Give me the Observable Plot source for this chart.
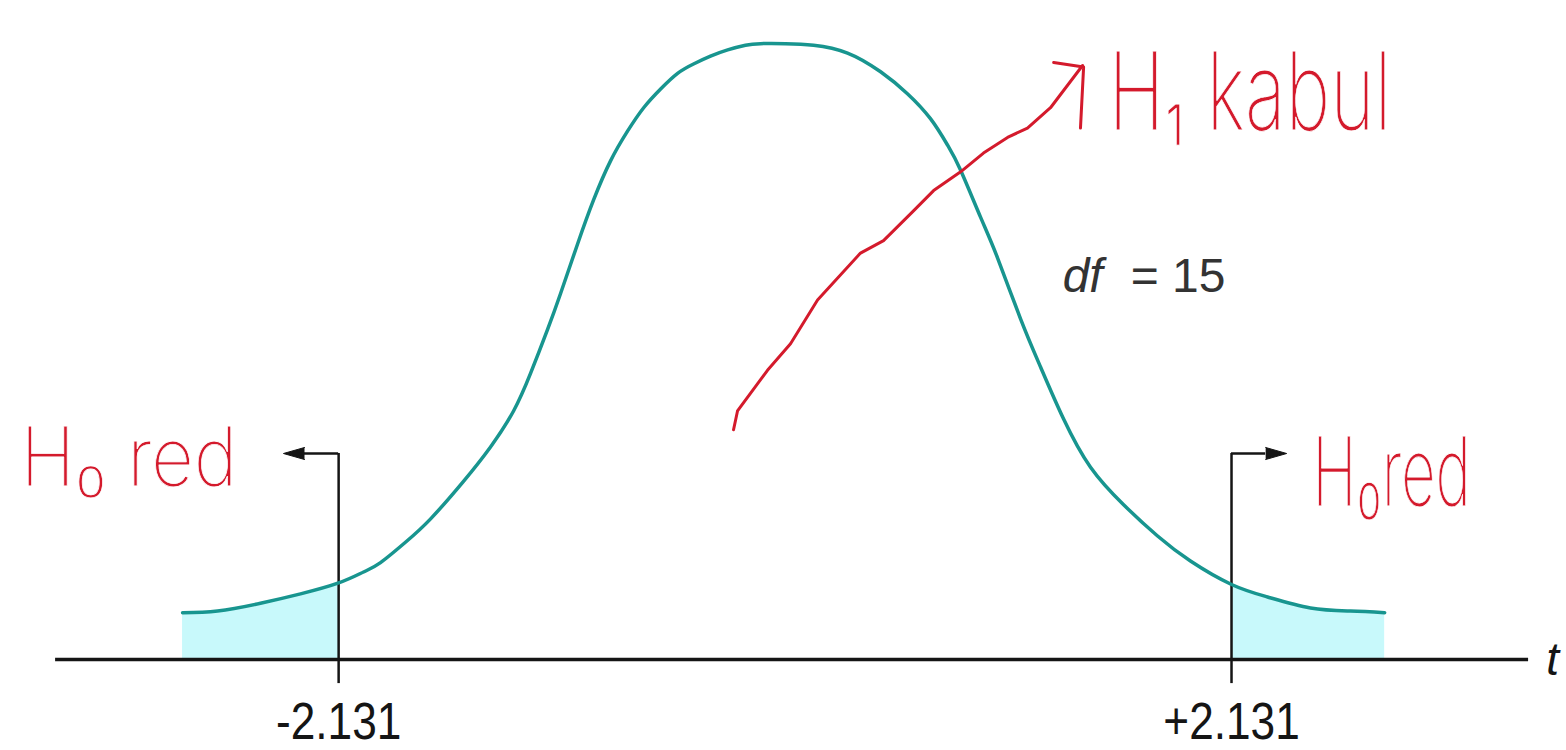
<!DOCTYPE html>
<html>
<head>
<meta charset="utf-8">
<script src="https://cdn.jsdelivr.net/npm/d3@7"></script>
<script src="https://cdn.jsdelivr.net/npm/@observablehq/plot@0.6"></script>
<style>
  html, body { margin: 0; padding: 0; background: #fff; }
  #chart svg { display: block; }
</style>
</head>
<body>
<div id="chart"></div>
<script>
// Student t distribution with 15 degrees of freedom, two-tailed test at ±2.131
const df = 15;
const critical = 2.131;
const criticalValues = [-critical, critical];

// density curve, sampled along t
const curveT = [
  -2.876, -2.709, -2.504, -2.313, -2.131, -2.012, -1.931, -1.812, -1.692, -1.535,
  -1.406, -1.296, -1.215, -1.134, -1.072, -0.990, -0.914, -0.833, -0.752, -0.675,
  -0.594, -0.513, -0.437, -0.356, -0.274, -0.189, -0.117, 0.002, 0.136, 0.298,
  0.456, 0.584, 0.694, 0.776, 0.838, 0.933, 1.014, 1.124, 1.220, 1.329,
  1.458, 1.616, 1.778, 1.935, 2.131, 2.303, 2.508, 2.699, 2.862
];
const curveDensity = [
  0.030, 0.031, 0.036, 0.042, 0.049, 0.056, 0.062, 0.075, 0.090, 0.114,
  0.136, 0.159, 0.183, 0.211, 0.234, 0.266, 0.294, 0.319, 0.338, 0.353,
  0.365, 0.375, 0.381, 0.386, 0.390, 0.393, 0.394, 0.394, 0.393, 0.388,
  0.376, 0.362, 0.346, 0.329, 0.313, 0.283, 0.257, 0.218, 0.187, 0.154,
  0.123, 0.099, 0.079, 0.063, 0.048, 0.040, 0.033, 0.031, 0.030
];

// hand-drawn red pen stroke pointing at the acceptance note
const penT = [-0.246, -0.227, -0.084, 0.026, 0.155, 0.360, 0.470, 0.613, 0.709, 0.838, 0.947, 1.062, 1.157, 1.267, 1.420];
const penY = [0.147, 0.159, 0.185, 0.202, 0.230, 0.260, 0.268, 0.287, 0.300, 0.312, 0.324, 0.334, 0.340, 0.353, 0.380];
const penHeadT = [1.282, 1.425, 1.410];
const penHeadY = [0.382, 0.379, 0.340];

// handwritten notes
const acceptNote = "H₁ kabul";
const rejectNoteLeft = "H₀ red";
const rejectNoteRight = "H₀red";

const curve = curveT.map((t, i) => ({t, d: curveDensity[i]}));
const leftTail = curve.filter(p => p.t <= -critical);
const rightTail = curve.filter(p => p.t >= critical);
const pen = penT.map((t, i) => ({t, d: penY[i]}));
const penHead = penHeadT.map((t, i) => ({t, d: penHeadY[i]}));
const tickLabel = c => (c < 0 ? "-" : "+") + Math.abs(c).toFixed(3);

const teal = "#18958f";
const shade = "#c8f9fb";
const ink = "#151515";
const red = "#d41a2c";
const armLength = 0.163;   // horizontal arm of each critical-value arrow, in t units
const armY = 0.1318;
const hand = "Inter, Lato, Roboto, sans-serif";
const plain = "'Liberation Sans', Arial, sans-serif";
// pen lettering: a thin white outline painted over the fill slims the strokes a little
const penText = {fontFamily: hand, fontWeight: 200, fill: red, stroke: "#fff", strokeWidth: 0.8,
  paintOrder: "normal", lineAnchor: "bottom", textAnchor: "start", text: d => d};

const chart = Plot.plot({
  width: 1566,
  height: 750,
  margin: 0,
  x: {domain: [-3.745, 3.730], axis: null},
  y: {domain: [-0.0582, 0.4216], axis: null},
  style: {background: "#fff", overflow: "visible"},
  marks: [
    // rejection regions
    Plot.areaY(leftTail, {x: "t", y: "d", fill: shade, curve: "natural"}),
    Plot.areaY(rightTail, {x: "t", y: "d", fill: shade, curve: "natural"}),
    // t axis
    Plot.ruleY([0], {x1: -3.482, x2: 3.549, stroke: ink, strokeWidth: 3.5}),
    // critical values with arrows pointing outward
    Plot.ruleX(criticalValues, {y1: -0.0154, y2: armY, stroke: ink, strokeWidth: 2.5}),
    Plot.ruleY(criticalValues, {x1: c => c, x2: c => c + Math.sign(c) * armLength, y: armY, stroke: ink, strokeWidth: 2.5}),
    Plot.vector(criticalValues, {
      x: c => c + Math.sign(c) * armLength, y: armY,
      shape: "spike", anchor: "start", length: 21, r: 6,
      rotate: c => (c > 0 ? 90 : -90),
      fill: ink, fillOpacity: 1, stroke: ink, strokeWidth: 1
    }),
    // density curve
    Plot.line(curve, {x: "t", y: "d", stroke: teal, strokeWidth: 3.5, curve: "natural"}),
    // labels
    Plot.text(criticalValues, {
      x: c => c, y: -0.0506, text: tickLabel, lineAnchor: "bottom", textAnchor: "middle",
      fontFamily: plain, fontSize: 52, fill: ink
    }),
    Plot.text(["t"], {x: 3.664, y: -0.0102, text: d => d, lineAnchor: "bottom", textAnchor: "middle",
      fontFamily: plain, fontStyle: "italic", fontSize: 46, fill: ink}),
    Plot.text(["df"], {x: 1.325, y: 0.2348, text: d => d, lineAnchor: "bottom", textAnchor: "start",
      fontFamily: plain, fontStyle: "italic", fontSize: 48, fill: "#333"}),
    Plot.text([`= ${df}`], {x: 1.650, y: 0.2348, text: d => d, lineAnchor: "bottom", textAnchor: "start",
      fontFamily: plain, fontSize: 48, fill: "#333"}),
    // red pen annotations
    Plot.line(pen, {x: "t", y: "d", stroke: red, strokeWidth: 3, curve: "linear"}),
    Plot.line(penHead, {x: "t", y: "d", stroke: red, strokeWidth: 3, curve: "linear"}),
    Plot.text([acceptNote], {...penText, x: 1.544, y: 0.3385, fontSize: 108}),
    Plot.text([rejectNoteLeft], {...penText, x: -3.649, y: 0.1113, fontSize: 82}),
    Plot.text([rejectNoteRight], {...penText, x: 2.518, y: 0.0985, fontSize: 96})
  ]
});

// narrow some lettering horizontally around its anchor
const squeeze = new Map([
  [tickLabel(-critical), 0.85], [tickLabel(critical), 0.85],
  [acceptNote, 0.7], [rejectNoteLeft, 0.9], [rejectNoteRight, 0.62]
]);
chart.querySelectorAll("text").forEach(el => {
  const sx = squeeze.get(el.textContent);
  if (sx === undefined) return;
  const tr = el.getAttribute("transform") || "";
  el.setAttribute("transform", `${tr} scale(${sx},1)`);
});

document.getElementById("chart").appendChild(chart);
</script>
</body>
</html>
